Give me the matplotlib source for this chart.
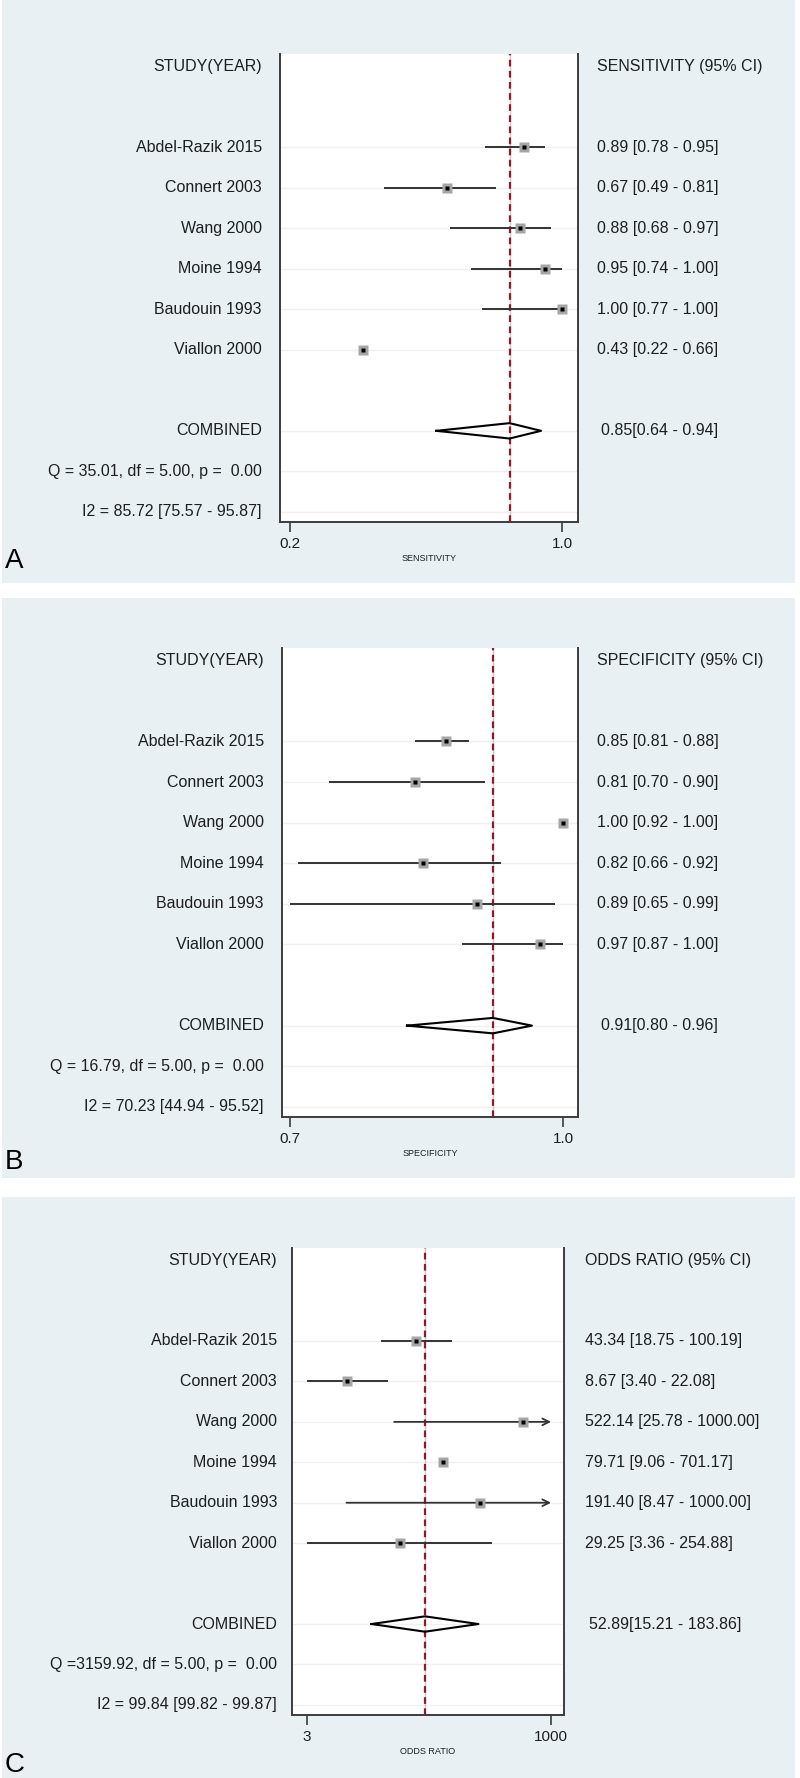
import matplotlib
matplotlib.use("Agg")
import matplotlib.pyplot as plt
import matplotlib.transforms as mtransforms
from matplotlib.patches import Rectangle

plt.rcParams['font.family'] = ['Liberation Sans', 'DejaVu Sans']

studies = ["Abdel-Razik 2015", "Connert 2003", "Wang 2000",
           "Moine 1994", "Baudouin 1993", "Viallon 2000"]

# sensitivity
sens_est = [0.89, 0.67, 0.88, 0.95, 1.00, 0.43]
sens_lo = [0.78, 0.49, 0.68, 0.74, 0.77, 0.22]
sens_hi = [0.95, 0.81, 0.97, 1.00, 1.00, 0.66]
sens_drawn = [True, True, True, True, True, False]
sens_comb = [0.85, 0.64, 0.94]
sens_q = "Q = 35.01, df = 5.00, p =  0.00"
sens_i2 = "I2 = 85.72 [75.57 - 95.87]"

# specificity
spec_est = [0.85, 0.81, 1.00, 0.82, 0.89, 0.97]
spec_lo = [0.81, 0.70, 0.92, 0.66, 0.65, 0.87]
spec_hi = [0.88, 0.90, 1.00, 0.92, 0.99, 1.00]
spec_drawn = [True, True, False, True, True, True]
spec_comb = [0.91, 0.80, 0.96]
spec_q = "Q = 16.79, df = 5.00, p =  0.00"
spec_i2 = "I2 = 70.23 [44.94 - 95.52]"

# odds ratio
or_est = [43.34, 8.67, 522.14, 79.71, 191.40, 29.25]
or_lo = [18.75, 3.40, 25.78, 9.06, 8.47, 3.36]
or_hi = [100.19, 22.08, 1000.00, 701.17, 1000.00, 254.88]
or_drawn = [True, True, True, False, True, True]
or_comb = [52.89, 15.21, 183.86]
or_q = "Q =3159.92, df = 5.00, p =  0.00"
or_i2 = "I2 = 99.84 [99.82 - 99.87]"

W, H = 800, 1778
BG = '#e9f0f4'
TXT = '#1e1e1e'
SPINE = '#3c3c3c'

fig = plt.figure(figsize=(W / 100, H / 100), dpi=100)
fig.patch.set_facecolor('white')

# panel backgrounds (top, bottom in px)
for top, bot in [(0, 583), (598, 1178), (1197, 1778)]:
    rect = Rectangle((2 / W, 1 - bot / H), 793 / W, (bot - top) / H,
                     transform=fig.transFigure, facecolor=BG,
                     edgecolor='none', zorder=-10)
    fig.add_artist(rect)


def forest(box, est, lo, hi, drawn, comb, qtxt, i2txt, head, xlab,
           xlim, log, fmt, lab_x, val_x, letter, letter_y):
    l, t, r, b = box
    ax = fig.add_axes([l / W, 1 - b / H, (r - l) / W, (b - t) / H])
    ax.set_facecolor('white')
    if log:
        ax.set_xscale('log')
    ax.set_xlim(*xlim)
    ax.set_ylim(9.25, -2.3)
    ax.minorticks_off()

    rows = list(range(len(est)))
    for y in rows + [7, 8, 9]:
        ax.axhline(y, color='#f4eeee', lw=1.0, zorder=1)

    ax.axvline(comb[0], color='#d8c4c8', lw=1.0, zorder=2)
    ax.axvline(comb[0], color='#8b1a2a', lw=1.6, ls=(0, (3, 2)), zorder=3)

    top = max(hi)
    for y, e, a, c, d in zip(rows, est, lo, hi, drawn):
        if not d:
            continue
        if log and c >= 1000:
            ax.annotate('', xy=(c, y), xytext=(a, y),
                        arrowprops=dict(arrowstyle='->', color='#333333', lw=1.3,
                                        shrinkA=0, shrinkB=0, mutation_scale=12),
                        zorder=4)
        else:
            ax.plot([a, c], [y, y], color='#333333', lw=1.4, zorder=4,
                    solid_capstyle='butt')
    ax.plot(est, rows, 's', color='#a6a6a6', ms=7, mec='none', zorder=5)
    ax.plot(est, rows, 's', color='black', ms=3.2, mec='none', zorder=6)

    h = 0.19
    ax.plot([comb[1], comb[0], comb[2], comb[0], comb[1]],
            [7, 7 - h, 7, 7 + h, 7], color='black', lw=1.5, zorder=5)

    ax.spines['top'].set_visible(False)
    for s in ['left', 'right', 'bottom']:
        ax.spines[s].set_color(SPINE)
        ax.spines[s].set_linewidth(1.4)
    ax.set_yticks([])
    ticks = [min(lo), top]
    ax.set_xticks(ticks)
    ax.set_xticklabels([fmt.format(v) for v in ticks], fontsize=11, color=TXT)
    ax.tick_params(axis='x', length=7, width=1.2, color=SPINE, pad=4)
    ax.set_xlabel(xlab, fontsize=6.5, color=TXT, labelpad=2)

    tr = mtransforms.blended_transform_factory(fig.transFigure, ax.transData)
    kw = dict(fontsize=11.5, color=TXT, va='center', transform=tr)
    ax.text(lab_x / W, -2, "STUDY(YEAR)", ha='right', **kw)
    ax.text(val_x / W, -2, head, ha='left', **kw)
    for y, name, e, a, c in zip(rows, studies, est, lo, hi):
        ax.text(lab_x / W, y, name, ha='right', **kw)
        ax.text(val_x / W, y, f"{e:.2f} [{a:.2f} - {c:.2f}]", ha='left', **kw)
    ax.text(lab_x / W, 7, "COMBINED", ha='right', **kw)
    ax.text((val_x + 4) / W, 7, f"{comb[0]:.2f}[{comb[1]:.2f} - {comb[2]:.2f}]",
            ha='left', **kw)
    ax.text(lab_x / W, 8, qtxt, ha='right', **kw)
    ax.text(lab_x / W, 9, i2txt, ha='right', **kw)

    fig.text(5 / W, 1 - letter_y / H, letter, fontsize=20, color='black',
             ha='left', va='center')
    return ax


forest((280, 54, 578, 522), sens_est, sens_lo, sens_hi, sens_drawn, sens_comb,
       sens_q, sens_i2, "SENSITIVITY (95% CI)", "SENSITIVITY",
       (0.192, 1.046), False, "{:.1f}", 262, 597, "A", 561)

forest((282, 648, 578, 1117), spec_est, spec_lo, spec_hi, spec_drawn, spec_comb,
       spec_q, spec_i2, "SPECIFICITY (95% CI)", "SPECIFICITY",
       (0.640, 1.019), False, "{:.1f}", 264, 597, "B", 1162)

forest((292, 1248, 564, 1715), or_est, or_lo, or_hi, or_drawn, or_comb,
       or_q, or_i2, "ODDS RATIO (95% CI)", "ODDS RATIO",
       (2.38, 1353), True, "{:.0f}", 277, 585, "C", 1765)

fig.savefig("out.png", dpi=100, facecolor=fig.get_facecolor())
